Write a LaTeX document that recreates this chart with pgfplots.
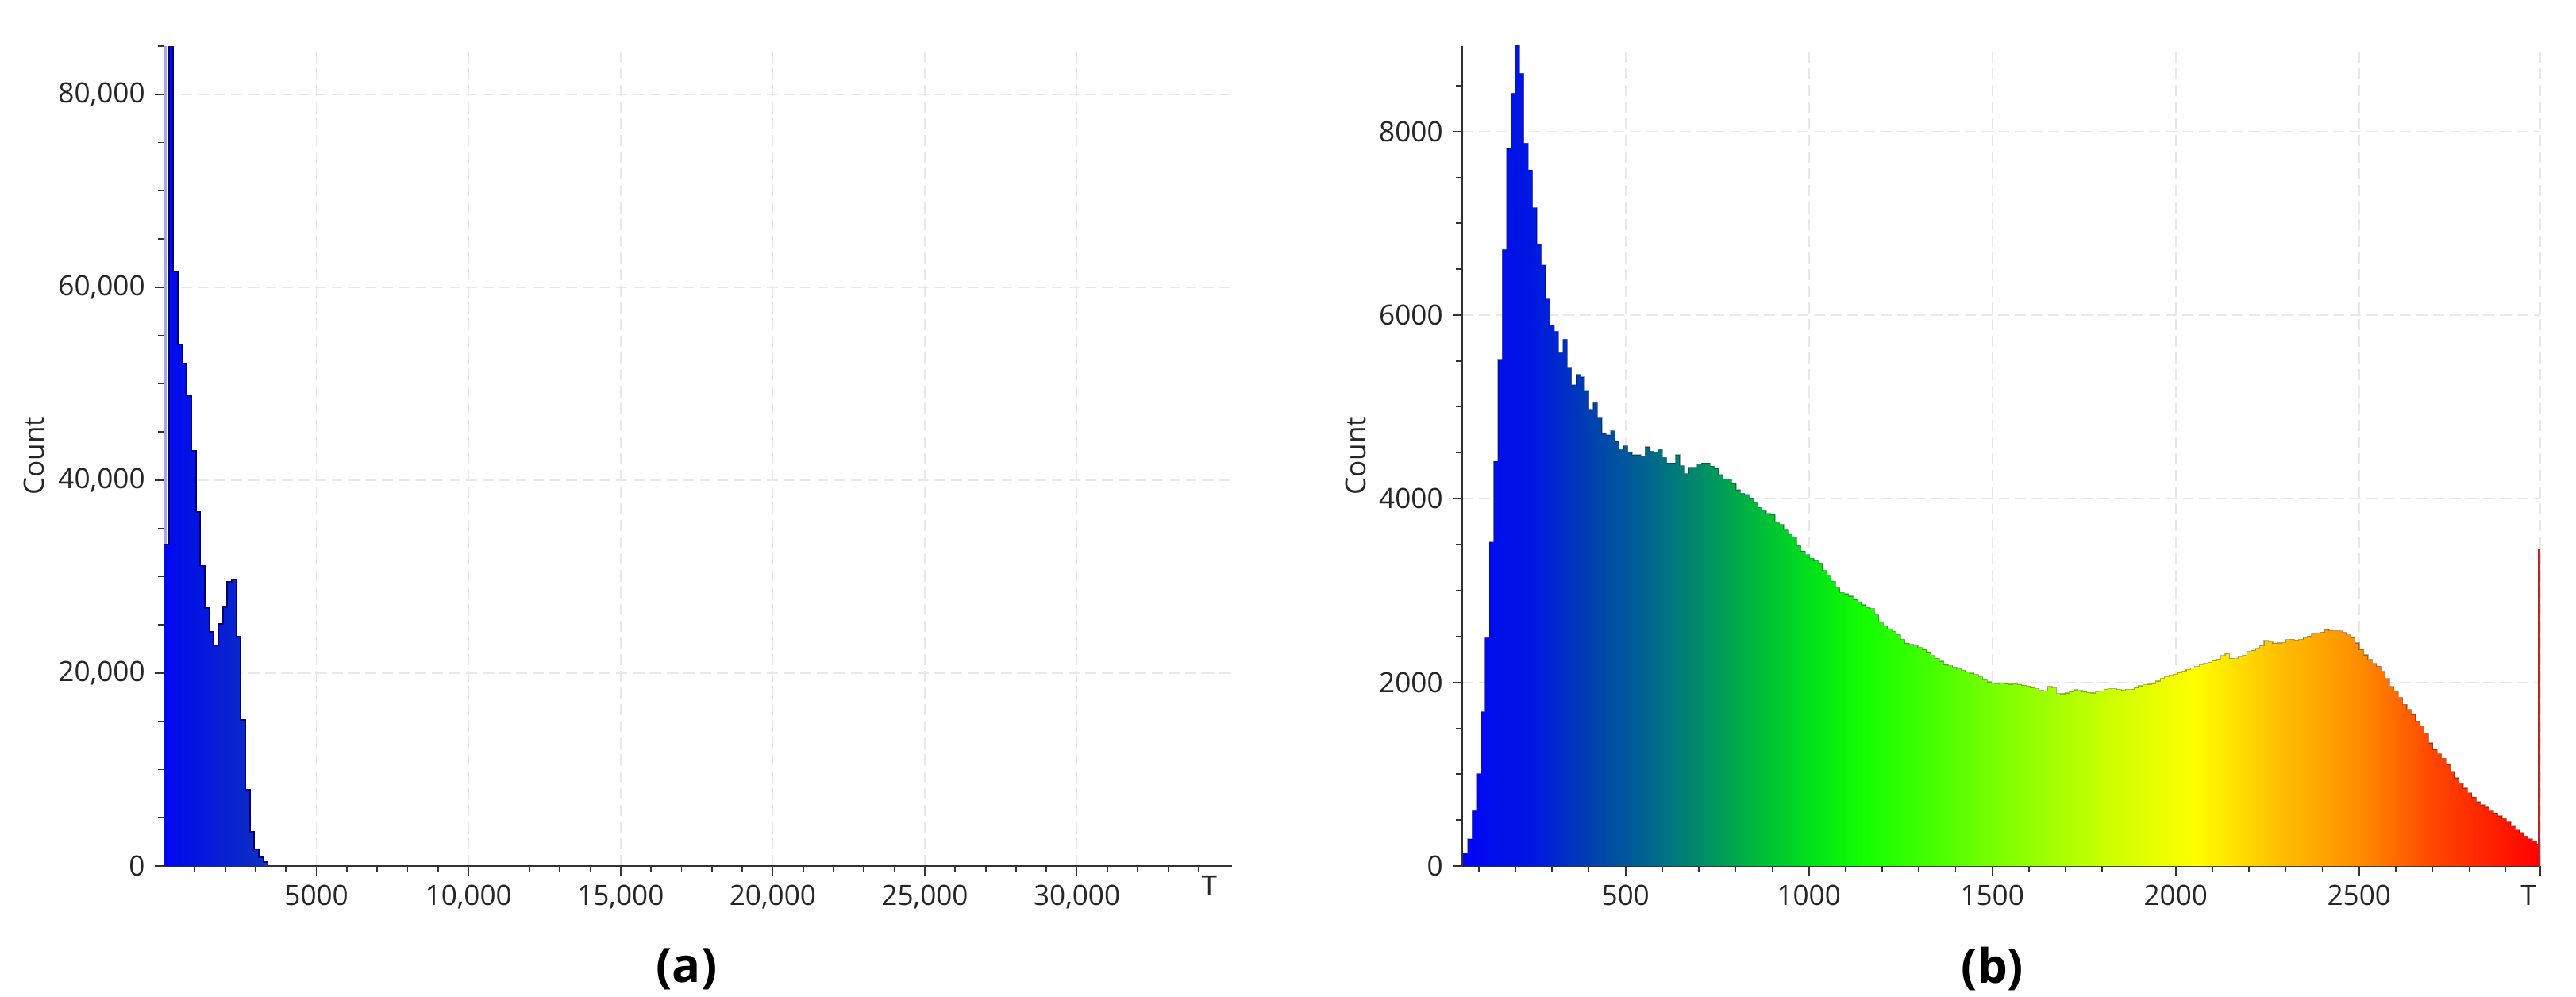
\documentclass[border=0pt]{standalone}
\usepackage{pgfplots}
\usepackage{pgfplotstable}
\pgfplotsset{compat=1.18}
\usepackage{fontspec}
\setmainfont{Open Sans}

% colour stops of the T colour map, left (blue) to right (red)
\definecolor{cb0}{RGB}{0,5,245}
\definecolor{cb1}{RGB}{0,25,225}
\definecolor{cb2}{RGB}{0,65,175}
\definecolor{cb3}{RGB}{0,100,145}
\definecolor{cb4}{RGB}{0,140,105}
\definecolor{cb5}{RGB}{0,185,60}
\definecolor{cb6}{RGB}{0,225,25}
\definecolor{cb7}{RGB}{20,255,0}
\definecolor{cb8}{RGB}{60,255,0}
\definecolor{cb9}{RGB}{120,255,0}
\definecolor{cb10}{RGB}{200,255,0}
\definecolor{cb11}{RGB}{255,255,0}
\definecolor{cb12}{RGB}{255,185,0}
\definecolor{cb13}{RGB}{255,140,0}
\definecolor{cb14}{RGB}{255,70,0}
\definecolor{cb15}{RGB}{255,0,0}
\definecolor{ablueL}{RGB}{0,8,240}
\definecolor{ablueR}{RGB}{15,50,190}
\definecolor{anavy}{RGB}{0,0,120}
\definecolor{astripe}{RGB}{165,165,235}
\definecolor{spike}{RGB}{190,45,45}
\definecolor{axisgray}{RGB}{50,50,50}

\pgfdeclarehorizontalshading{histb}{100bp}{color(0bp)=(cb0); color(25bp)=(cb0);
  color(28.3bp)=(cb1); color(30.9bp)=(cb2); color(33.4bp)=(cb3); color(36.0bp)=(cb4);
  color(38.5bp)=(cb5); color(41.1bp)=(cb6); color(43.6bp)=(cb7); color(46.2bp)=(cb8);
  color(49.6bp)=(cb9); color(54.7bp)=(cb10); color(58.9bp)=(cb11); color(63.2bp)=(cb12);
  color(66.6bp)=(cb13); color(70.0bp)=(cb14); color(75bp)=(cb15); color(100bp)=(cb15)}

% (a): bin left edge, count
\pgfplotstableread{
x y
0 33350
148 88000
296 61630
444 54080
592 52090
740 48760
888 43020
1036 36680
1184 31120
1332 26710
1480 24290
1628 22900
1776 25080
1924 26830
2072 29430
2220 29730
2368 23810
2516 15110
2664 7860
2812 3570
2960 1750
3108 900
3256 400
3404 400
}\histA

% (b): counts of bins 11.8 wide from 58 (last row repeats the last bin)
\pgfplotstableread{
n
146
293
603
1007
1680
2487
3529
4407
5519
6713
7814
8417
9000
8633
7872
7580
7170
6772
6544
6175
5894
5824
5590
5736
5432
5238
5355
5326
5180
4975
5045
4887
4712
4694
4741
4624
4536
4577
4507
4477
4477
4466
4565
4518
4507
4536
4448
4390
4390
4477
4360
4273
4343
4343
4372
4390
4390
4355
4331
4261
4214
4214
4167
4097
4060
4045
4010
3955
3905
3870
3840
3830
3745
3720
3660
3610
3580
3490
3430
3390
3350
3325
3300
3220
3170
3100
3030
2980
2965
2940
2905
2875
2845
2815
2805
2735
2660
2615
2580
2555
2520
2470
2428
2412
2398
2380
2358
2325
2292
2262
2230
2196
2180
2165
2148
2133
2116
2100
2085
2060
2028
2005
1990
1985
1995
1988
1980
1985
1978
1970
1960
1945
1930
1912
1905
1955
1940
1878
1875
1885
1900
1920
1910
1900
1890
1885
1895
1905
1925
1930
1932
1925
1918
1922
1925
1945
1962
1975
1980
1988
2015
2045
2060
2078
2090
2108
2125
2140
2158
2172
2190
2205
2220
2238
2252
2290
2315
2262
2258
2275
2295
2335
2350
2368
2400
2455
2440
2428
2430
2432
2465
2470
2460
2468
2485
2505
2528
2535
2548
2575
2565
2563
2560
2545
2517
2490
2430
2360
2300
2250
2205
2175
2120
2040
1955
1905
1835
1760
1705
1650
1578
1528
1440
1340
1270
1222
1172
1105
1030
960
895
848
797
750
700
665
640
600
578
545
515
488
440
398
365
325
295
270
240
240
}\histB

\pgfplotsset{
  histaxis/.style={
    scale only axis,
    axis lines*=left,
    axis line style={axisgray, line width=0.7pt},
    tick align=outside,
    major tick length=0.12cm,
    minor tick length=0.08cm,
    tick style={axisgray, line width=0.5pt},
    grid=major,
    major grid style={gray!18, dash pattern=on 4pt off 2pt, line width=0.5pt},
    scaled ticks=false,
    tick label style={font=\fontsize{10}{12}\selectfont, text=black!85},
    /pgf/number format/.cd, 1000 sep={,}, min exponent for 1000 sep=4, assume math mode=true,
    /pgfplots/.cd,
    ylabel={Count},
    ylabel style={font=\fontsize{10}{12}\selectfont, anchor=center, text=black!85},
    clip=true,
  },
}

\begin{document}
\begin{tikzpicture}
\useasboundingbox (0,0) rectangle (32.45,12.55);

\begin{axis}[histaxis,
  at={(2.07cm,1.64cm)}, anchor=south west,
  width=13.45cm, height=10.33cm,
  xmin=0, xmax=35100, ymin=0, ymax=85000,
  xtick={5000,10000,...,30000}, ytick={0,20000,...,80000},
  minor xtick={1000,2000,...,34000}, minor ytick={5000,10000,...,85000},
  extra x ticks={34350}, extra x tick labels={T},
  extra x tick style={grid=none, major tick length=0pt},
  ylabel style={at={(axis description cs:-0.122,0.5)}},
]
\addplot[draw=none, fill=astripe] coordinates {(0,0) (0,90000) (75,90000) (75,0)} --cycle;
\addplot[const plot, draw=none, left color=ablueL, right color=ablueR] table[x=x, y=y] {\histA} \closedcycle;
\addplot[const plot, anavy, line width=0.6pt, no marks] table[x=x, y=y] {\histA};
\end{axis}

\begin{axis}[histaxis,
  at={(18.42cm,1.64cm)}, anchor=south west,
  width=13.58cm, height=10.33cm,
  xmin=55, xmax=2994, ymin=0, ymax=8930,
  xtick={500,1000,...,2500}, ytick={0,2000,...,8000},
  minor xtick={100,200,...,2900}, minor ytick={500,1000,...,8500},
  extra x ticks={2994}, extra x tick labels={T},
  extra x tick style={xticklabel style={xshift=-1.5mm}},
  ylabel style={at={(axis description cs:-0.099,0.5)}},
]
\addplot[const plot, draw=none, shade, shading=histb] table[x expr={58+11.8*\coordindex}, y=n] {\histB} \closedcycle;
\addplot[const plot, black, draw opacity=0.3, line width=0.35pt, no marks] table[x expr={58+11.8*\coordindex}, y=n] {\histB};
\addplot[fill=spike, draw=spike!85!black, line width=0.3pt] coordinates {(2988,0) (2988,3450) (2994,3450) (2994,0)} --cycle;
\end{axis}

\node[font=\fontsize{17}{20}\selectfont\bfseries] at (8.65,0.34) {(a)};
\node[font=\fontsize{17}{20}\selectfont\bfseries] at (25.10,0.34) {(b)};
\end{tikzpicture}
\end{document}
